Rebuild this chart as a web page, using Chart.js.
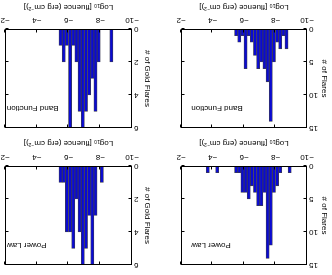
<!DOCTYPE html>
<html>
<head>
<meta charset="utf-8">
<script src="https://cdn.jsdelivr.net/npm/chart.js@4.4.0/dist/chart.umd.min.js"></script>
<style>
html, body { margin: 0; padding: 0; background: #fff; overflow: hidden; }
#fig { position: relative; width: 332px; height: 275px; transform: rotate(180deg); }
canvas { position: absolute; }
</style>
</head>
<body>
<div id="fig">
  <canvas id="plAll"    width="166" height="137" style="left:0;top:0"></canvas>
  <canvas id="plGold"   width="166" height="137" style="left:166px;top:0"></canvas>
  <canvas id="bandAll"  width="166" height="138" style="left:0;top:137px"></canvas>
  <canvas id="bandGold" width="166" height="138" style="left:166px;top:137px"></canvas>
</div>
<script>
// ——— data: bin centres (log10 fluence, 0.2 dex bins) and counts ———
const plAllBins     = [-8.9, -8.3, -8.1, -7.9, -7.7, -7.5, -7.3, -7.1, -6.9, -6.7, -6.5, -6.3, -6.1, -5.9, -5.7, -5.5, -4.3, -3.7];
const plAllCounts   = [   1,    1,    3,    4,   12,   14,    4,    6,    6,    4,    3,    5,    4,    4,    1,    1,    1,    1];

const plGoldBins    = [-8.1, -7.7, -7.5, -7.3, -7.1, -6.9, -6.7, -6.5, -6.3, -6.1, -5.9, -5.7, -5.5];
const plGoldCounts  = [   1,    3,    6,    3,    5,    6,    4,    2,    5,    4,    4,    1,    1];

const bandAllBins   = [-8.7, -8.5, -8.3, -8.1, -7.9, -7.7, -7.5, -7.3, -7.1, -6.9, -6.7, -6.5, -6.3, -6.1, -5.9, -5.7, -5.5];
const bandAllCounts = [   3,    1,    3,    2,    5,   14,    8,    6,    5,    6,    4,    2,    1,    6,    1,    2,    1];

const bandGoldBins   = [-8.7, -7.9, -7.7, -7.5, -7.3, -7.1, -6.9, -6.7, -6.5, -6.3, -6.1, -5.9, -5.7, -5.5];
const bandGoldCounts = [   2,    2,    5,    3,    4,    5,    6,    5,    2,    1,    6,    1,    2,    1];

const xTicks      = [-10, -8, -6, -4, -2];
const xTitle      = 'Log\u2081\u2080 [fluence (erg cm\u207B\u00B2)]';
const FONT        = '"Liberation Sans", Arial, sans-serif';

// box, inward ticks on all four sides, model label
const frame = {
  id: 'frame',
  afterDatasetsDraw(chart, args, opts) {
    const { ctx, chartArea: a, scales: { x, y } } = chart;
    const L = Math.round(a.left) + 0.5, R = Math.round(a.right) - 0.5;
    const T = Math.round(a.top) + 0.5,  B = Math.round(a.bottom) - 0.5;
    ctx.save();
    ctx.strokeStyle = '#000';
    ctx.lineWidth = 1;
    ctx.beginPath();
    x.ticks.forEach(t => {
      const px = Math.round(x.getPixelForValue(t.value)) + 0.5;
      ctx.moveTo(px, B); ctx.lineTo(px, B - 3);
      ctx.moveTo(px, T); ctx.lineTo(px, T + 3);
    });
    y.ticks.forEach(t => {
      const py = Math.round(y.getPixelForValue(t.value)) + 0.5;
      ctx.moveTo(L, py); ctx.lineTo(L + 3, py);
      ctx.moveTo(R, py); ctx.lineTo(R - 3, py);
    });
    ctx.stroke();
    ctx.strokeRect(L, T, R - L, B - T);
    ctx.font = '8px ' + FONT;
    ctx.fillStyle = '#000';
    ctx.textAlign = 'right';
    ctx.textBaseline = 'middle';
    ctx.fillText(opts.text, x.getPixelForValue(opts.at), a.top + 20);
    ctx.restore();
  }
};

function makeChart(id, bins, counts, cfg) {
  return new Chart(document.getElementById(id), {
    type: 'bar',
    data: {
      datasets: [{
        data: bins.map((b, i) => ({ x: b, y: counts[i] })),
        backgroundColor: '#0a0ad2',
        borderColor: '#3a3a55',
        borderWidth: 0.8,
        barPercentage: 1,
        categoryPercentage: 1,
      }]
    },
    options: {
      responsive: false,
      animation: false,
      devicePixelRatio: 1,
      layout: { padding: { top: 10, right: cfg.padRight, left: cfg.padLeft, bottom: cfg.padBottom } },
      scales: {
        x: {
          type: 'linear', min: -10, max: -2, offset: false,
          afterBuildTicks: s => { s.ticks = xTicks.map(v => ({ value: v })); },
          afterFit: s => { s.height = cfg.xH; s.paddingLeft = 0; s.paddingRight = 0; },
          ticks: { font: { family: FONT, size: 8 }, color: '#000', padding: 4, maxRotation: 0,
                   callback: v => v < 0 ? '\u2212' + (-v) : String(v) },
          grid: { display: false, drawTicks: false },
          border: { display: false },
          title: { display: true, text: xTitle, font: { family: FONT, size: 8 }, color: '#000', padding: 0 }
        },
        y: {
          min: 0, max: cfg.yMax,
          afterFit: s => { s.width = cfg.yW; s.paddingTop = 0; s.paddingBottom = 0; },
          ticks: { stepSize: cfg.yStep, font: { family: FONT, size: 8 }, color: '#000', padding: 2 },
          grid: { display: false, drawTicks: false },
          border: { display: false },
          title: { display: true, text: cfg.yTitle, font: { family: FONT, size: 8 }, color: '#000', padding: 0 }
        }
      },
      plugins: {
        legend: { display: false },
        tooltip: { enabled: false },
        frame: { text: cfg.label, at: cfg.labelAt }
      }
    },
    plugins: [frame]
  });
}

const allCfg  = { padLeft: 3,  yW: 22, padRight: 15, yMax: 15, yStep: 5, yTitle: '# of Flares',      labelAt: -2.65 };
const goldCfg = { padLeft: 14, yW: 20, padRight: 5,  yMax: 6,  yStep: 2, yTitle: '# of Gold Flares', labelAt: -2.12 };

makeChart('plAll',    plAllBins,    plAllCounts,    { ...allCfg,  xH: 28, padBottom: 0, label: 'Power Law' });
makeChart('plGold',   plGoldBins,   plGoldCounts,   { ...goldCfg, xH: 28, padBottom: 0, label: 'Power Law' });
makeChart('bandAll',  bandAllBins,  bandAllCounts,  { ...allCfg,  xH: 27, padBottom: 2, label: 'Band Function' });
makeChart('bandGold', bandGoldBins, bandGoldCounts, { ...goldCfg, xH: 27, padBottom: 2, label: 'Band Function' });
</script>
</body>
</html>
